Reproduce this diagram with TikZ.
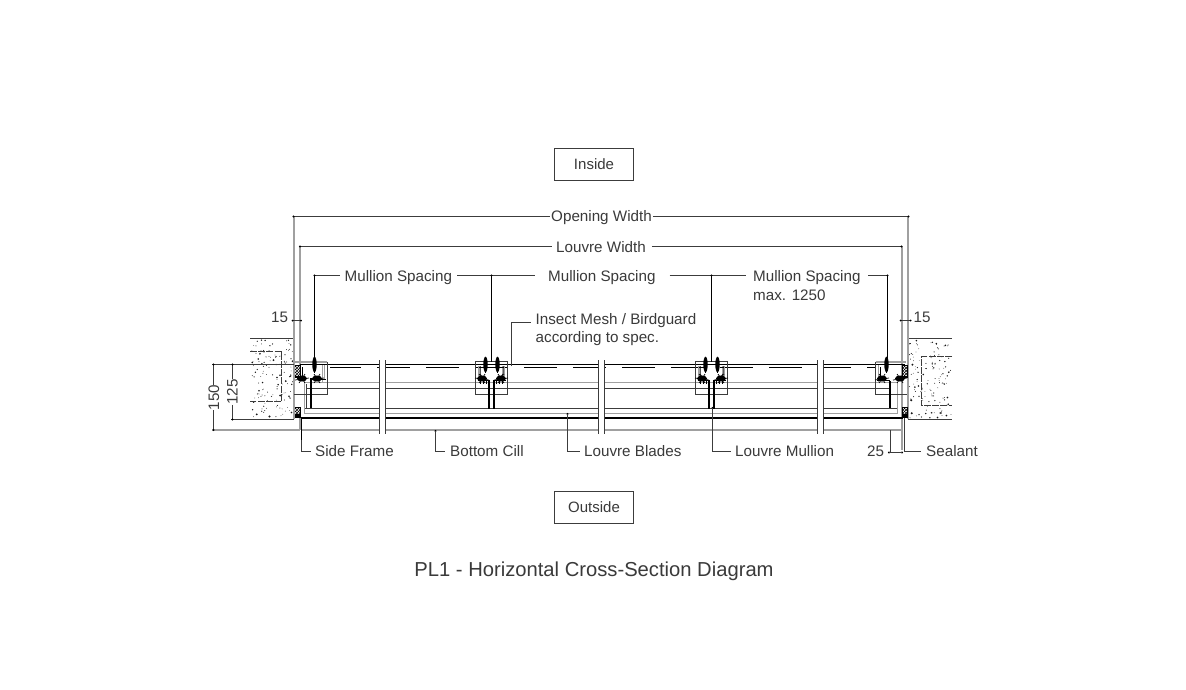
\documentclass[tikz,border=0pt]{standalone}
\usepackage{fontspec}
\setmainfont{Liberation Sans}
\usetikzlibrary{patterns}
\definecolor{txt}{HTML}{3A3A3A}
\definecolor{gr}{HTML}{A0A0A0}
\definecolor{dk}{HTML}{3C3C3C}
\tikzset{
  lab/.style={text=txt,font=\fontsize{15.2}{18}\selectfont,inner sep=0pt,align=left},
  boxlab/.style={draw=dk,line width=1.6pt,minimum width=79pt,minimum height=32pt,text=txt,font=\fontsize{15}{18}\selectfont,inner sep=0pt},
  dim/.style={draw=dk,line width=0.9pt},
  grl/.style={draw=gr,line width=1.8pt},
  grt/.style={draw=gr,line width=1.1pt},
  thin1/.style={draw=dk,line width=0.85pt},
  blk/.style={draw=black,line width=1.5pt},
  blkt/.style={draw=black,line width=1pt},
  tickm/.style={draw=black,line width=0.7pt},
  endmark/.style={fill=black},
}
\newcommand{\boltmark}[1]{%
  \fill[black] (#1,364.5) ellipse [x radius=2.2,y radius=7.8];
  \fill[black] (#1-.5,357) rectangle (#1+.5,372.5);}
\newcommand{\blobmark}[1]{%
  \fill[black] (#1,378.5) ellipse [x radius=5,y radius=3];
  \draw[tickm] (#1-7,380)--(#1+7,378) (#1-3,374)--(#1+3,383) (#1+3,374)--(#1-3,383);}
% half of a mullion clamp: #1 centre x, #2 side (+1/-1)
\newcommand{\halfclamp}[2]{%
  \begin{scope}[shift={(#1,0)},xscale=#2]
    \boltmark{6}
    \draw[grt] (13,366)--(13,376);
    \draw[blkt] (11.5,366)--(11.5,374)--(9,378);
    \blobmark{9.5}
    \draw[blkt] (14,380)--(3,380);
    \draw[tickm] (5,380)--(5,384) (8,380)--(8,384) (11,380)--(11,384);
  \end{scope}}
\newcommand{\sealblock}[5]{% x1 y1 x2 y2 hatch-end
  \fill[black] (#1,#2) rectangle (#3,#4);
  \fill[white] (#1+.7,#2+1) rectangle (#3-.7,#5);
  \fill[pattern=crosshatch,pattern color=black] (#1+.7,#2+1) rectangle (#3-.7,#5);}
\newcommand{\speckle}[4]{% x1 y1 width height
  \foreach \i in {1,...,130}{
    \pgfmathsetmacro{\px}{#1+rnd*#3}
    \pgfmathsetmacro{\py}{#2+rnd*#4}
    \pgfmathsetmacro{\pr}{0.35+0.85*rnd*rnd}
    \fill[black!90] (\px,\py) circle [radius=\pr];
  }}
\begin{document}
\begin{tikzpicture}[x=1pt,y=-1pt]
\useasboundingbox (0,0) rectangle (1186,689);
\fill[white] (0,0) rectangle (1186,689);
\pgfmathsetseed{4271}

% ---- walls
\speckle{251}{340}{42}{78}
\speckle{909}{340}{42}{78}
\draw[thin1] (250,338.5)--(294,338.5) (250,419.5)--(294,419.5);
\draw[thin1,dash pattern=on 7pt off 1.2pt] (250,351.5)--(281.5,351.5)--(281.5,401.5)--(250,401.5);
\draw[thin1] (908,338.5)--(952,338.5) (908,419.5)--(952,419.5);
\draw[thin1,dash pattern=on 7pt off 1.2pt] (952,356.5)--(921.5,356.5)--(921.5,405.5)--(952,405.5);

% ---- frame verticals
\draw[grl] (294,216)--(294,419);
\draw[grl] (908,216)--(908,419);
\draw[grl] (300,246)--(300,366);
\draw[grl] (902,246)--(902,450);

% ---- horizontal members
\draw[grt] (304,382.5)--(897,382.5);
\draw[thin1] (306,388.5)--(890,388.5);
\draw[thin1] (304,408.5)--(897,408.5);
\draw[grt] (304,413.5)--(897,413.5);
\draw[blk] (301,418)--(903,418);
\draw[grl] (212,430)--(300,430) (301,430)--(903,430);
\draw[grt] (304.5,382)--(304.5,413.5) (897.5,382)--(897.5,413.5);
\draw[thin1] (306.5,384)--(306.5,408.5);
\draw[blkt] (300,364.5)--(905,364.5);
\draw[blkt,dash pattern=on 33pt off 16pt,dash phase=2pt] (330,367.5)--(875,367.5);
\draw[grl] (294,362)--(327,362) (875.5,362)--(906,362);
\draw[grt] (300,418)--(300,430);

% ---- end frames
\draw[thin1] (327.5,362)--(327.5,394.5)--(294,394.5);
\draw[thin1] (875.5,362)--(875.5,394.5)--(907,394.5);
\draw[grt] (322.5,365)--(322.5,382) (324.5,365)--(324.5,380);
\draw[blkt] (302.5,367)--(302.5,376);
\draw[blkt] (880.5,367)--(880.5,376);
\draw[grt] (878.5,365)--(878.5,382);
\draw[blk] (311,378)--(311,408);
\draw[blk] (890,381)--(890,408);
\draw[blkt] (311,379.5)--(326,379.5);
\draw[blkt] (877,380.5)--(890,380.5);
\boltmark{314.5}
\boltmark{886.5}
\blobmark{317}
\blobmark{882}
\blobmark{302}
\blobmark{900}
\sealblock{294.5}{365}{300.5}{378}{376}
\sealblock{294.5}{407}{300.5}{418}{414}
\sealblock{902}{365}{908}{378}{376}
\sealblock{902}{407}{908}{418}{414}

% ---- intermediate mullions
\foreach \c in {491.5,711.5}{
  \draw[thin1] (\c-16,361.5) rectangle (\c+16,394.5);
  \halfclamp{\c}{1}
  \halfclamp{\c}{-1}
  \draw[blk] (\c-2.7,380)--(\c-2.7,408.5) (\c+2.7,380)--(\c+2.7,408.5);
}

% ---- break lines
\foreach \a/\b in {379.5/385.5,598.5/604.5,817.5/823.5}{
  \fill[white] (\a,355) rectangle (\b,436);
  \draw[blkt,draw=dk] (\a,360)--(\a,434) (\b,360)--(\b,434);
}

% ---- boxes and title
\node[boxlab] (inside) at (594,164.5) {Inside};
\node[boxlab] (outside) at (594,507.5) {Outside};
\node[text=txt,font=\fontsize{20.2}{24}\selectfont,inner sep=0pt] (title) at (594,571) {PL1 - Horizontal Cross-Section Diagram};

% ---- dimension labels
\node[lab,anchor=center] (ow) at (601.5,217.5) {Opening Width};
\node[lab,anchor=center] (lw) at (601,247.5) {Louvre Width};
\node[lab,anchor=west] (ms1) at (344.5,278) {Mullion Spacing};
\node[lab,anchor=west] (ms2) at (548,278) {Mullion Spacing};
\node[lab,anchor=north west,font=\fontsize{15.2}{19.5}\selectfont] (ms3) at (753,270) {Mullion Spacing\\max. 1250};
\node[lab,anchor=north west] (mesh) at (535.5,313) {Insect Mesh / Birdguard\\according to spec.};
\node[lab,anchor=center] (l15) at (279.5,317) {15};
\node[lab,anchor=center] (r15) at (922,317) {15};
\node[lab,anchor=center,rotate=90] (d150) at (214,397.5) {150};
\node[lab,anchor=center,rotate=90] (d125) at (232.5,392) {125};
\node[lab,anchor=west] (sf) at (315,451) {Side Frame};
\node[lab,anchor=west] (bc) at (450,451) {Bottom Cill};
\node[lab,anchor=west] (lb) at (584,451) {Louvre Blades};
\node[lab,anchor=west] (lm) at (735,451) {Louvre Mullion};
\node[lab,anchor=center] (d25) at (875.5,451.5) {25};
\node[lab,anchor=west] (se) at (926,451) {Sealant};

% ---- named ends
\coordinate (owL) at (293.5,216.5);
\coordinate (owR) at (908.5,216.5);
\coordinate (lwL) at (300,246.5);
\coordinate (lwR) at (901.5,246.5);
\coordinate (m0) at (314.5,275.5);
\coordinate (m1) at (491.5,275.5);
\coordinate (m2) at (711.5,275.5);
\coordinate (m3) at (887.5,275.5);
\coordinate (m0b) at (314.5,358);
\coordinate (m1b) at (491.5,362);
\coordinate (m2b) at (711.5,362);
\coordinate (m3b) at (887.5,358);
\coordinate (ms3W) at (746,275.5);
\coordinate (ms3E) at (868,275.5);
\coordinate (meshE) at (531,322.5);
\coordinate (meshB) at (511.5,366);
\coordinate (sfT) at (301.5,418);
\coordinate (bcT) at (435.5,431);
\coordinate (lbT) at (567.5,414);
\coordinate (lmT) at (712.5,408);
\coordinate (seT) at (904.5,418);
\coordinate (t150a) at (213.5,364.5);
\coordinate (t150b) at (213.5,430);
\coordinate (t125a) at (232.5,364.5);
\coordinate (t125b) at (232.5,419.5);
\coordinate (e1) at (294,364.5);
\coordinate (e2) at (294,419.5);
\coordinate (t25a) at (889,452.5);
\coordinate (t25b) at (902,452.5);

% ---- dimension connectors
\draw[dim] (owL)--([xshift=-1pt]ow.west |- owL) ([xshift=1pt]ow.east |- owR)--(owR);
\draw[dim] (lwL)--([xshift=-4pt]lw.west |- lwL) ([xshift=6pt]lw.east |- lwR)--(lwR);
\draw[dim] (m0)--([xshift=-5pt]ms1.west |- m0) ([xshift=5pt]ms1.east |- m0)--(m1);
\draw[dim] (m1)--([xshift=-13pt]ms2.west |- m1) ([xshift=14pt]ms2.east |- m1)--(m2);
\draw[dim] (m2)--(ms3W) (ms3E)--(m3);
\draw[blkt] (m0)--(m0b) (m1)--(m1b) (m2)--(m2b) (m3)--(m3b);
\draw[thin1] (212,364.5)--(e1);
\draw[thin1] (231,419.5)--(e2);
\draw[dim] (t150a)--(d150.east -| t150a) (d150.west -| t150b)--(t150b);
\draw[dim] (t125a)--(d125.east -| t125a) (d125.west -| t125b)--(t125b);
\draw[dim] (292,320.5)--(301.5,320.5);
\draw[dim] (900,320.5)--(911,320.5);

% ---- small end marks
\foreach \p in {owL,owR,lwL,lwR,m0,m1,m2,m3,t150a,t150b,t125a,t125b,t25a,t25b,lbT,bcT,lmT}
  \fill[endmark] (\p) circle [radius=1.05];
\foreach \q in {(292.5,320.5),(301,320.5),(900.5,320.5),(910.5,320.5)}
  \fill[endmark] \q circle [radius=1];

% ---- leaders
\draw[thin1] (meshB)|-(meshE);
\draw[blkt] (sfT)--(301.5,440);
\draw[thin1] (301.5,440)|-([xshift=-4pt]sf.west);
\draw[thin1] (bcT)|-([xshift=-5pt]bc.west);
\draw[thin1] (lbT)|-([xshift=-4pt]lb.west);
\draw[thin1] (lmT)|-([xshift=-4pt]lm.west);
\draw[thin1] (seT)|-([xshift=-5pt]se.west);
\draw[thin1] (890.5,430)--(890.5,452);
\draw[dim] (t25a)--(t25b);
\end{tikzpicture}
\end{document}
